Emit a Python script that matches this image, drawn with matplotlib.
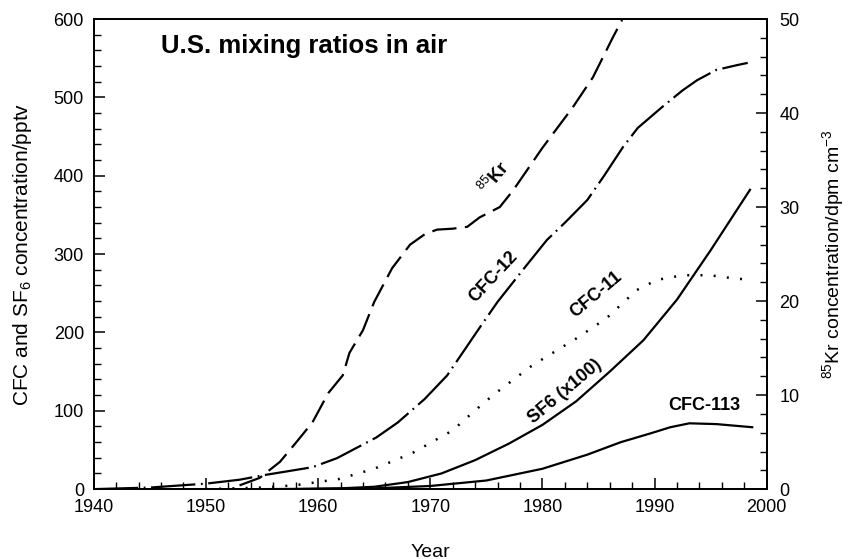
import matplotlib
matplotlib.use("Agg")
import matplotlib.pyplot as plt
from matplotlib.ticker import MultipleLocator

plt.rcParams['font.family'] = ['Liberation Sans', 'DejaVu Sans']
plt.rcParams['mathtext.fontset'] = 'custom'
plt.rcParams['mathtext.rm'] = 'Liberation Sans'
plt.rcParams['mathtext.it'] = 'Liberation Sans:italic'
plt.rcParams['mathtext.bf'] = 'Liberation Sans:bold'

# 85Kr (right axis, dpm cm-3)
kr_years = [1953, 1954.8, 1956.6, 1958, 1959.5, 1960.9, 1962.2, 1962.8, 1964.0, 1965.0,
            1966.6, 1968.2, 1969.5, 1970.6, 1972, 1973.3, 1974.4, 1976.2, 1977.4, 1980.0,
            1982.7, 1984.5, 1986.3, 1987.1]
kr_vals = [0.4, 1.2, 2.9, 4.9, 7.1, 10.2, 12.1, 14.5, 16.9, 19.9,
           23.5, 26.0, 27.1, 27.6, 27.7, 27.9, 28.9, 30.0, 31.8, 36.3,
           40.6, 43.8, 48.1, 49.9]

# CFC-12 (pptv)
cfc12_years = [1940, 1945, 1950, 1953, 1955.2, 1959.5, 1961.7, 1965.2, 1967.1, 1969.5,
               1971.5, 1974.4, 1976.0, 1978.6, 1980.4, 1982, 1984.0, 1985.5, 1987.2, 1988.5,
               1990.7, 1992.5, 1993.8, 1995.5, 1997.3, 1998.3]
cfc12_vals = [0, 2, 7, 12, 17.9, 28, 39.6, 66, 85, 115,
              145, 206, 239, 286, 318, 340, 369, 400, 437, 461,
              488, 509, 522, 535, 541, 544]

# CFC-11 (pptv)
cfc11_years = [1950, 1955, 1958, 1961.9, 1965, 1968.4, 1972.0, 1973.8, 1975.6, 1979.1,
               1983.1, 1985.7, 1988.4, 1990.2, 1992.5, 1994.9, 1996.5, 1998.5]
cfc11_vals = [0, 2, 5, 13, 26, 46, 75, 98, 120, 158,
              193, 218, 254, 267, 273, 273, 270, 267]

# SF6 x100 (pptv)
sf6_years = [1958, 1962, 1965, 1968, 1971, 1974, 1977, 1980, 1983, 1986, 1989, 1992, 1995, 1998.5]
sf6_vals = [0, 1, 3, 9, 20, 37, 58, 82, 112, 150, 190, 242, 305, 382]

# CFC-113 (pptv)
cfc113_years = [1955, 1960, 1965, 1970, 1975, 1980, 1984, 1987, 1989.6, 1991.4, 1993.1, 1995.5, 1998.7]
cfc113_vals = [0, 0.5, 1, 4, 11, 26, 44, 60, 71, 79, 84, 83, 79]

fig = plt.figure(figsize=(8.52, 5.59), dpi=100)
ax = fig.add_axes([0.110, 0.125, 0.790, 0.841])
ax2 = ax.twinx()

lw = 1.6
ax2.plot(kr_years, kr_vals, color='black', lw=lw, dashes=(11, 3.8))
ax.plot(cfc12_years, cfc12_vals, color='black', lw=lw, dashes=(20, 2.5, 0.8, 2.5))
ax.plot(cfc11_years, cfc11_vals, color='black', lw=1.8, dashes=(0.8, 4.5))
ax.plot(sf6_years, sf6_vals, color='black', lw=lw)
ax.plot(cfc113_years, cfc113_vals, color='black', lw=lw)

ax.set_xlim(1940, 2000)
ax.set_ylim(0, 600)
ax2.set_ylim(0, 50)

ax.xaxis.set_major_locator(MultipleLocator(10))
ax.xaxis.set_minor_locator(MultipleLocator(2))
ax.yaxis.set_major_locator(MultipleLocator(100))
ax.yaxis.set_minor_locator(MultipleLocator(20))
ax2.yaxis.set_major_locator(MultipleLocator(10))
ax2.yaxis.set_minor_locator(MultipleLocator(2))

for a in (ax, ax2):
    a.tick_params(which='major', direction='in', length=8, width=1.1, labelsize=13, pad=7)
    a.tick_params(which='minor', direction='in', length=5, width=1.0)
    for s in a.spines.values():
        s.set_linewidth(1.3)
ax.tick_params(axis='x', which='both', top=False)
ax2.tick_params(axis='y', which='major', pad=9)

ax.set_xlabel('Year', fontsize=14, labelpad=20)
ax.set_ylabel('CFC and SF$_6$ concentration/pptv', fontsize=15, labelpad=14)
ax2.set_ylabel('$^{85}$Kr concentration/dpm cm$^{-3}$', fontsize=14, labelpad=15)

ax.text(0.313, 0.943, 'U.S. mixing ratios in air', transform=ax.transAxes,
        fontsize=18.5, fontweight='bold', ha='center', va='center')

lab = dict(fontsize=13, fontweight='bold', ha='center', va='center', rotation_mode='anchor')
ax.text(1975.7, 397, r'$^{85}$Kr', rotation=50, **lab)
ax.text(1975.6, 271, 'CFC-12', rotation=47, **lab)
ax.text(1984.8, 248, 'CFC-11', rotation=40, **lab)
ax.text(1982.0, 125, 'SF6 (x100)', rotation=40, **lab)
ax.text(1994.4, 107, 'CFC-113', **lab)

fig.savefig('out.png', dpi=100)
